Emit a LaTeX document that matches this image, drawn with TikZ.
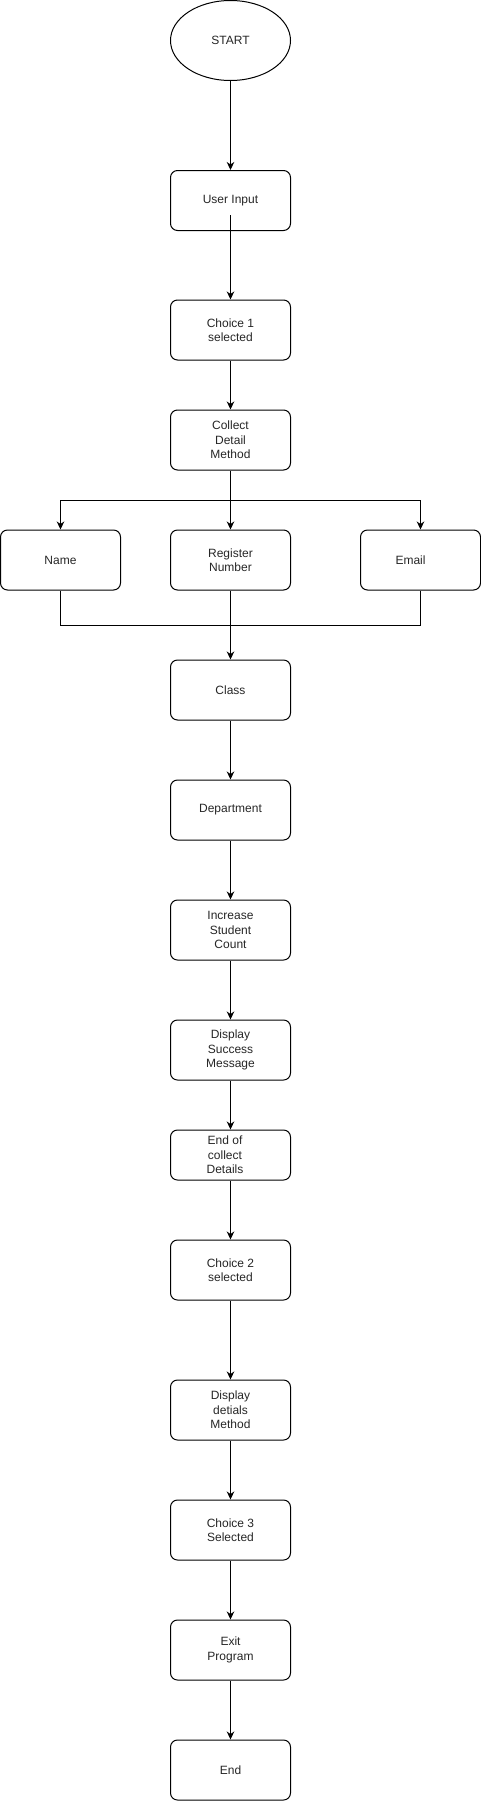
\documentclass[tikz,border=0pt]{standalone}
\usepackage{fontspec}
\setmainfont{Liberation Sans}
\usetikzlibrary{arrows.meta,shapes.geometric}
\begin{document}
\begin{tikzpicture}[x=1pt,y=-1pt,
  txt/.style={font=\fontsize{12}{14.4}\selectfont,text=black!85},
  box/.style={txt,draw,rounded corners=7pt,minimum width=120pt,minimum height=60pt,inner sep=0pt,align=center,line width=1pt},
  oval/.style={txt,draw,ellipse,minimum width=120pt,minimum height=80pt,inner sep=0pt,line width=1pt},
  flow/.style={draw,line width=1pt,-{Stealth[length=8pt,width=7.5pt,inset=2.5pt]}},
  link/.style={draw,line width=1pt}]
\useasboundingbox (0,0) rectangle (481,1802);
\node[oval] (start) at (230.5,40.5) {START};
\node[box] (ui) at (230.5,200.5) {User Input};
\node[box] (c1) at (230.5,330) {Choice 1\\selected};
\node[box] (col) at (230.5,440) {Collect\\Detail\\Method};
\node[box] (name) at (60.5,560) {Name};
\node[box] (reg) at (230.5,560) {Register\\Number};
\node[box] (email) at (420.5,560) {\hspace*{-20pt}Email};
\node[box] (cls) at (230.5,690) {Class};
\node[box] (dept) at (230.5,810) {Department};
\node[box] (inc) at (230.5,930) {Increase\\Student\\Count};
\node[box] (succ) at (230.5,1050) {Display\\Success\\Message};
\node[box,minimum height=50pt] (endc) at (230.5,1155) {\hspace*{-11pt}End of\\\hspace*{-11pt}collect\\\hspace*{-11pt}Details};
\node[box] (c2) at (230.5,1270) {Choice 2\\selected};
\node[box] (dd) at (230.5,1410) {Display\\detials\\Method};
\node[box] (c3) at (230.5,1530) {Choice 3\\Selected};
\node[box] (exit) at (230.5,1650) {Exit\\Program};
\node[box] (end) at (230.5,1770) {End};
\coordinate (uiout) at (230.5,215);
\coordinate (split) at (230.5,500);
\coordinate (merge) at (230.5,625);
\draw[flow] (start.south) -- (ui.north);
\draw[flow] (uiout) -- (c1.north);
\draw[flow] (c1.south) -- (col.north);
\draw[flow] (col.south) -- (reg.north);
\draw[flow] (split) -| (name.north);
\draw[flow] (split) -| (email.north);
\draw[link] (name.south) |- (merge);
\draw[link] (email.south) |- (merge);
\draw[flow] (reg.south) -- (cls.north);
\draw[flow] (cls.south) -- (dept.north);
\draw[flow] (dept.south) -- (inc.north);
\draw[flow] (inc.south) -- (succ.north);
\draw[flow] (succ.south) -- (endc.north);
\draw[flow] (endc.south) -- (c2.north);
\draw[flow] (c2.south) -- (dd.north);
\draw[flow] (dd.south) -- (c3.north);
\draw[flow] (c3.south) -- (exit.north);
\draw[flow] (exit.south) -- (end.north);
\end{tikzpicture}
\end{document}
